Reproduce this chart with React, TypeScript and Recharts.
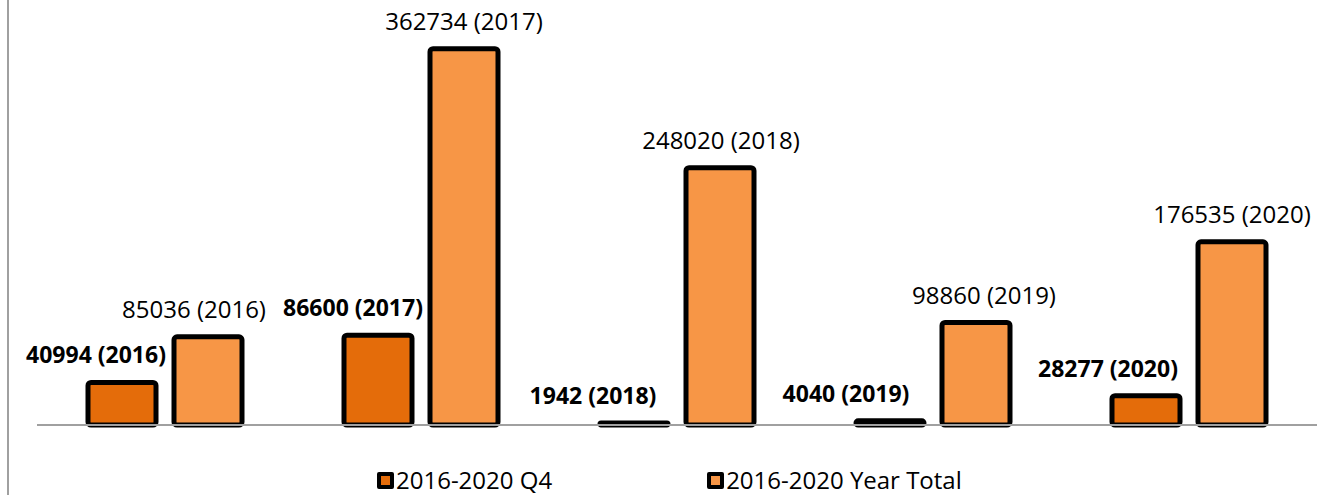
import { Bar, BarChart, LabelList, ReferenceLine, XAxis, YAxis } from "recharts";

const Q4_COLOR = "#e46c0a";
const YEAR_COLOR = "#f79646";
const FONT = "'Open Sans', sans-serif";

const years = ["2016", "2017", "2018", "2019", "2020"];
const q4Values = [40994, 86600, 1942, 4040, 28277];
const yearTotals = [85036, 362734, 248020, 98860, 176535];

const seriesNames = ["2016-2020 Q4", "2016-2020 Year Total"];

// label nudges so text sits where the original placed it
const q4LabelDx = [-26, -25, -41, -44, -38];
const yearLabelDx = [-14, 0, 1, 8, 0];

const data = years.map((year, i) => ({ year, q4: q4Values[i], total: yearTotals[i] }));

function makeLabel(shift: number[], bold: boolean) {
  return (props: any) => {
    const { x, y, width, value, index } = props;
    const year = years[index];
    return (
      <text
        x={Number(x) + Number(width) / 2 + shift[index]}
        y={Number(y) - (bold ? 19 : 18.5)}
        textAnchor="middle"
        fill="#000"
        fontFamily={FONT}
        fontSize={bold ? 23 : 24}
        fontWeight={bold ? 700 : 400}
      >
        {`${value} (${year})`}
      </text>
    );
  };
}

function LegendBox() {
  const colors = [Q4_COLOR, YEAR_COLOR];
  return (
    <div
      style={{
        position: "absolute",
        left: 377,
        top: 466,
        display: "flex",
        gap: 155,
        fontFamily: FONT,
        fontSize: 24,
        lineHeight: "28px",
        color: "#000",
      }}
    >
      {seriesNames.map((name, i) => (
        <div key={name} style={{ display: "flex", alignItems: "center" }}>
          <span
            style={{
              display: "inline-block",
              width: 9,
              height: 9,
              background: colors[i],
              border: "4px solid #000",
              borderRadius: 2,
              marginRight: 2,
            }}
          />
          <span>{name}</span>
        </div>
      ))}
    </div>
  );
}

export default function App() {
  return (
    <div style={{ position: "absolute", left: 0, top: 0, width: 1324, height: 495, background: "#fff" }}>
      <div style={{ position: "absolute", left: 7, top: 0, width: 2, height: 495, background: "#a0a0a0" }} />
      <BarChart
        width={1324}
        height={495}
        data={data}
        margin={{ top: 10, right: 7, left: 37, bottom: 70 }}
        barGap={18}
      >
        <XAxis dataKey="year" hide />
        <YAxis hide domain={[0, 400000]} />
        <Bar dataKey="q4" name={seriesNames[0]} fill={Q4_COLOR} stroke="#000" strokeWidth={5} radius={3} barSize={68} isAnimationActive={false}>
          <LabelList dataKey="q4" content={makeLabel(q4LabelDx, true)} />
        </Bar>
        <Bar dataKey="total" name={seriesNames[1]} fill={YEAR_COLOR} stroke="#000" strokeWidth={5} radius={3} barSize={68} isAnimationActive={false}>
          <LabelList dataKey="total" content={makeLabel(yearLabelDx, false)} />
        </Bar>
        <ReferenceLine y={0} stroke="#a0a0a0" strokeWidth={2} />
      </BarChart>
      <LegendBox />
    </div>
  );
}
